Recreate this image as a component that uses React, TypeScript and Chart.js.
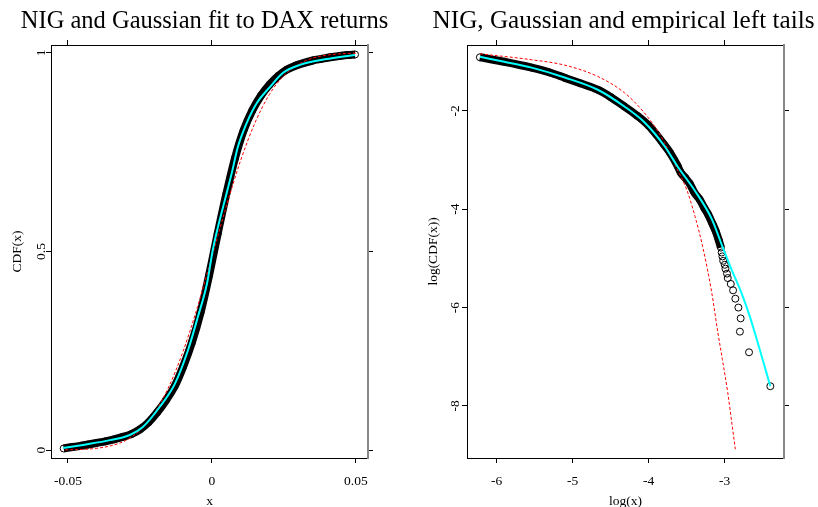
import React, { useEffect, useRef } from 'react';
import { Chart, registerables } from 'chart.js';

Chart.register(...registerables);

// ---------- Left panel: CDF ----------
const leftTitle = 'NIG and Gaussian fit to DAX returns';
const leftXTitle = 'x';
const leftYTitle = 'CDF(x)';
const cdfXTicks = [-0.05, 0, 0.05];
const cdfXTickLabels = ['-0.05', '0', '0.05'];
const cdfYTicks = [0, 0.5, 1];
const cdfYTickLabels = ['0', '0.5', '1'];

const empX = [-0.0515, -0.049, -0.046, -0.043, -0.04, -0.037, -0.034, -0.031, -0.028, -0.025, -0.022, -0.019, -0.016, -0.013, -0.01, -0.007, -0.004, -0.001, 0.002, 0.005, 0.008, 0.011, 0.014, 0.017, 0.02, 0.023, 0.026, 0.029, 0.032, 0.035, 0.038, 0.041, 0.044, 0.047, 0.0497];
const empY = [0.004, 0.007, 0.01, 0.014, 0.018, 0.022, 0.027, 0.033, 0.04, 0.052, 0.07, 0.095, 0.125, 0.16, 0.21, 0.27, 0.345, 0.44, 0.545, 0.645, 0.735, 0.805, 0.855, 0.892, 0.92, 0.942, 0.958, 0.968, 0.975, 0.981, 0.985, 0.989, 0.992, 0.995, 0.996];

const nigX = [-0.0517, -0.0448, -0.0354, -0.0285, -0.024, -0.0181, -0.0128, -0.0083, -0.0049, -0.0017, 0.0003, 0.0021, 0.0045, 0.0069, 0.009, 0.0121, 0.0156, 0.0201, 0.0247, 0.0306, 0.04, 0.0497];
const nigY = [0.005, 0.013, 0.025, 0.038, 0.058, 0.109, 0.168, 0.252, 0.335, 0.42, 0.504, 0.562, 0.63, 0.698, 0.763, 0.824, 0.874, 0.914, 0.95, 0.97, 0.985, 0.995];

const gaussX = [-0.051, -0.045, -0.04, -0.035, -0.03, -0.025, -0.02, -0.015, -0.01, -0.005, 0, 0.005, 0.01, 0.015, 0.02, 0.025, 0.03, 0.035, 0.04, 0.045, 0.05];
const gaussY = [0.0005, 0.0016, 0.0045, 0.011, 0.024, 0.05, 0.093, 0.159, 0.249, 0.361, 0.487, 0.614, 0.73, 0.825, 0.896, 0.943, 0.971, 0.987, 0.9946, 0.998, 0.9993];

// ---------- Right panel: log tails ----------
const rightTitle = 'NIG, Gaussian and empirical left tails';
const rightXTitle = 'log(x)';
const rightYTitle = 'log(CDF(x))';
const tailXTicks = [-6, -5, -4, -3];
const tailXTickLabels = ['-6', '-5', '-4', '-3'];
const tailYTicks = [-8, -6, -4, -2];
const tailYTickLabels = ['-8', '-6', '-4', '-2'];

const tailBandX = [-6.22, -5.9, -5.54, -5.3, -5.1, -4.9, -4.67, -4.5, -4.32, -4.15, -4.0, -3.9, -3.8, -3.72, -3.62, -3.58, -3.52, -3.46, -3.4, -3.33, -3.27, -3.22, -3.16, -3.12, -3.08, -3.05];
const tailBandY = [-0.91, -1.0, -1.12, -1.22, -1.33, -1.44, -1.57, -1.72, -1.91, -2.1, -2.3, -2.48, -2.68, -2.85, -3.12, -3.25, -3.36, -3.48, -3.66, -3.8, -3.97, -4.1, -4.3, -4.44, -4.62, -4.78];

const tailPtsX = [-3.04, -3.03, -3.02, -3.0, -2.99, -2.97, -2.96, -2.92, -2.89, -2.86, -2.82, -2.79, -2.8, -2.68, -2.4];
const tailPtsY = [-4.88, -4.96, -5.05, -5.13, -5.21, -5.31, -5.4, -5.52, -5.65, -5.82, -6.0, -6.22, -6.49, -6.91, -7.6];

const tailNigX = [-6.22, -5.9, -5.54, -5.105, -4.67, -4.32, -4.05, -3.79, -3.62, -3.39, -3.17, -3.02, -2.91, -2.78, -2.67, -2.54, -2.4];
const tailNigY = [-0.9, -1.0, -1.12, -1.32, -1.57, -1.91, -2.24, -2.72, -3.13, -3.63, -4.2, -4.8, -5.23, -5.7, -6.18, -6.85, -7.6];

const tailGaussX = [-6.22, -5.54, -5.105, -4.67, -4.32, -4.09, -3.92, -3.79, -3.62, -3.5, -3.39, -3.29, -3.17, -3.09, -3.03, -2.96, -2.9, -2.86];
const tailGaussY = [-0.84, -0.96, -1.07, -1.3, -1.63, -1.98, -2.32, -2.65, -3.2, -3.6, -4.15, -4.76, -5.7, -6.51, -7.06, -7.73, -8.42, -8.88];

const SERIF = '"Liberation Serif", "Times New Roman", serif';

const pts = (xs: number[], ys: number[]) => xs.map((x, i) => ({ x, y: ys[i] }));

interface PanelSpec {
  title: string;
  titleX: number;
  titleSize: number;
  xTitle: string;
  yTitle: string;
  xTicks: number[];
  xTickLabels: string[];
  yTicks: number[];
  yTickLabels: string[];
  xMin: number; xMax: number; yMin: number; yMax: number;
  leftW: number; rightW: number; topH: number; bottomH: number;
  yLabelX: number;
  yTitleX: number;
  datasets: any[];
}

function makeConfig(p: PanelSpec): any {
  const setTicks = (vals: number[]) => (s: any) => { s.ticks = vals.map((v) => ({ value: v })); };
  const axisCommon = {
    type: 'linear',
    ticks: { display: false },
    grid: { display: true, drawOnChartArea: false, drawTicks: true, tickLength: 5, color: '#000', lineWidth: 1 },
    border: { display: true, color: '#000', width: 1 },
  };
  const textPlugin = {
    id: 'panelText',
    afterDraw(chart: any) {
      const ctx = chart.ctx;
      const xs = chart.scales.x;
      const ys = chart.scales.y;
      const ca = chart.chartArea;
      ctx.save();
      ctx.fillStyle = '#000';
      ctx.textBaseline = 'alphabetic';
      ctx.textAlign = 'center';
      ctx.font = `${p.titleSize}px ${SERIF}`;
      ctx.fillText(p.title, p.titleX, 28);
      ctx.font = `13.5px ${SERIF}`;
      xs.ticks.forEach((t: any) => {
        const i = p.xTicks.indexOf(t.value);
        if (i >= 0) ctx.fillText(p.xTickLabels[i], xs.getPixelForValue(t.value), 484.5);
      });
      ys.ticks.forEach((t: any) => {
        const i = p.yTicks.indexOf(t.value);
        if (i < 0) return;
        ctx.save();
        ctx.translate(p.yLabelX, ys.getPixelForValue(t.value));
        ctx.rotate(-Math.PI / 2);
        ctx.fillText(p.yTickLabels[i], 0, 0);
        ctx.restore();
      });
      ctx.fillText(p.xTitle, (ca.left + ca.right) / 2, 504.5);
      ctx.save();
      ctx.translate(p.yTitleX, (ca.top + ca.bottom) / 2);
      ctx.rotate(-Math.PI / 2);
      ctx.fillText(p.yTitle, 0, 0);
      ctx.restore();
      ctx.restore();
    },
  };
  return {
    type: 'scatter',
    data: { datasets: p.datasets },
    options: {
      responsive: false,
      animation: false,
      devicePixelRatio: 1,
      layout: { padding: 0 },
      plugins: { legend: { display: false }, tooltip: { enabled: false }, title: { display: false } },
      scales: {
        x: { ...axisCommon, position: 'bottom', min: p.xMin, max: p.xMax, afterBuildTicks: setTicks(p.xTicks), afterFit: (s: any) => { s.height = p.bottomH; } },
        xTop: { ...axisCommon, position: 'top', min: p.xMin, max: p.xMax, afterBuildTicks: setTicks(p.xTicks), afterFit: (s: any) => { s.height = p.topH; } },
        y: { ...axisCommon, position: 'left', min: p.yMin, max: p.yMax, afterBuildTicks: setTicks(p.yTicks), afterFit: (s: any) => { s.width = p.leftW; } },
        yRight: { ...axisCommon, position: 'right', min: p.yMin, max: p.yMax, border: { display: true, color: '#888', width: 2 }, afterBuildTicks: setTicks(p.yTicks), afterFit: (s: any) => { s.width = p.rightW; } },
      },
    },
    plugins: [textPlugin],
  };
}

const lineDs = (data: any[], color: string, width: number, dash: number[] = []) => ({
  data, showLine: true, borderColor: color, borderWidth: width, borderDash: dash,
  pointRadius: 0, pointHoverRadius: 0, fill: false, cubicInterpolationMode: 'monotone', xAxisID: 'x', yAxisID: 'y',
});
const bandDs = (data: any[]) => ({
  data, showLine: true, borderColor: '#000', borderWidth: 8, borderJoinStyle: 'round',
  pointRadius: 3.5, pointBorderWidth: 1, pointBorderColor: '#000', pointBackgroundColor: 'rgba(0,0,0,0)',
  pointHoverRadius: 0, fill: false, cubicInterpolationMode: 'monotone', xAxisID: 'x', yAxisID: 'y',
});
const circleDs = (data: any[]) => ({
  data, showLine: false, pointRadius: 3.5, pointBorderWidth: 1, pointBorderColor: '#000',
  pointBackgroundColor: 'rgba(0,0,0,0)', pointHoverRadius: 0, xAxisID: 'x', yAxisID: 'y',
});

function Panel({ spec, left }: { spec: PanelSpec; left: number }) {
  const ref = useRef<HTMLCanvasElement>(null);
  useEffect(() => {
    if (!ref.current) return;
    const chart = new Chart(ref.current, makeConfig(spec));
    return () => chart.destroy();
  }, []);
  return (
    <canvas ref={ref} width={409} height={507}
      style={{ position: 'absolute', left, top: 0, width: 409, height: 507, display: 'block' }} />
  );
}

export default function App() {
  const leftSpec: PanelSpec = {
    title: leftTitle, titleX: 204.5, titleSize: 24.5, xTitle: leftXTitle, yTitle: leftYTitle,
    xTicks: cdfXTicks, xTickLabels: cdfXTickLabels, yTicks: cdfYTicks, yTickLabels: cdfYTickLabels,
    xMin: -0.0559, xMax: 0.0542, yMin: -0.02, yMax: 1.02,
    leftW: 51, rightW: 41, topH: 45, bottomH: 49,
    yLabelX: 45, yTitleX: 21,
    datasets: [
      lineDs(pts(nigX, nigY), '#00FFFF', 2),
      lineDs(pts(gaussX, gaussY), '#FF0000', 1, [3, 2]),
      bandDs(pts(empX, empY)),
    ],
  };
  const rightSpec: PanelSpec = {
    title: rightTitle, titleX: 214.5, titleSize: 25.2, xTitle: rightXTitle, yTitle: rightYTitle,
    xTicks: tailXTicks, xTickLabels: tailXTickLabels, yTicks: tailYTicks, yTickLabels: tailYTickLabels,
    xMin: -6.39, xMax: -2.22, yMin: -9.06, yMax: -0.66,
    leftW: 58, rightW: 34, topH: 45, bottomH: 49,
    yLabelX: 50, yTitleX: 28,
    datasets: [
      lineDs(pts(tailNigX, tailNigY), '#00FFFF', 2),
      lineDs(pts(tailGaussX, tailGaussY), '#FF0000', 1, [3, 2]),
      bandDs(pts(tailBandX, tailBandY)),
      circleDs(pts(tailPtsX, tailPtsY)),
    ],
  };
  return (
    <div style={{ position: 'absolute', left: 0, top: 0, width: 818, height: 507, background: '#fff' }}>
      <Panel spec={leftSpec} left={0} />
      <Panel spec={rightSpec} left={409} />
    </div>
  );
}
